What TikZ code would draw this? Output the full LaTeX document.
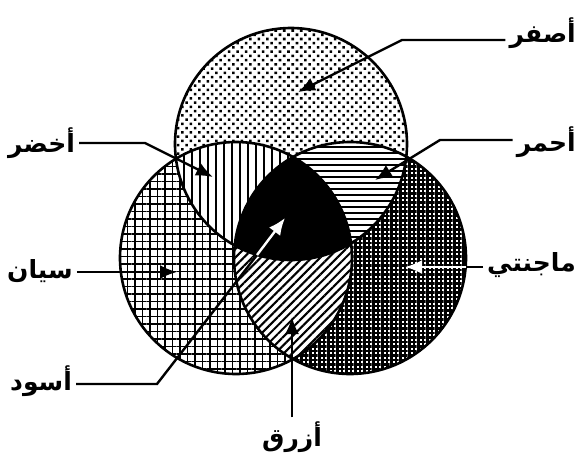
\documentclass[tikz,border=0pt]{standalone}
\usepackage{fontspec}
\usepackage{tikz}
\usetikzlibrary{arrows.meta,patterns.meta}
\TeXXeTstate=1
\newfontfamily\arabicfont[Script=Arabic]{DejaVu Sans}
\newcommand{\arlbl}[1]{{\arabicfont\bfseries\beginR #1\endR}}
\tikzset{
  vennedge/.style={draw=black, line width=2.6pt},
  regionfill/.style={preaction={fill=white}},
  leader/.style={-{Latex[length=17pt,width=14pt]}, line width=2.4pt},
  leadline/.style={line width=2.4pt},
  colorlbl/.style={font=\fontsize{25}{30}\selectfont, inner sep=4pt}
}

\begin{document}
\begin{tikzpicture}[x=1pt, y=-1pt]
  \useasboundingbox (0,0) rectangle (581,459);
  \def\rad{116}
  \coordinate (ctop) at (291,144);
  \coordinate (cleft) at (236,258);
  \coordinate (cright) at (350,258);

  % single circles
  \fill[regionfill, pattern={Dots[radius=1.8pt,distance=6pt,angle=45]}] (ctop) circle (\rad);
  \fill[regionfill, pattern={Hatch[distance=7.5pt,angle=0,line width=1.9pt]}] (cleft) circle (\rad);
  \fill[regionfill, pattern={Hatch[distance=4.5pt,angle=0,line width=2.4pt]}] (cright) circle (\rad);

  % pairwise overlaps
  \begin{scope}
    \clip (ctop) circle (\rad);
    \fill[regionfill, pattern={Lines[angle=90,distance=8pt,line width=1.9pt]}] (cleft) circle (\rad);
  \end{scope}
  \begin{scope}
    \clip (ctop) circle (\rad);
    \fill[regionfill, pattern={Lines[angle=0,distance=6pt,line width=2.1pt]}] (cright) circle (\rad);
  \end{scope}
  \begin{scope}
    \clip (cleft) circle (\rad);
    \fill[regionfill, pattern={Lines[angle=45,distance=6pt,line width=2.1pt]}] (cright) circle (\rad);
  \end{scope}

  % all three
  \begin{scope}
    \clip (ctop) circle (\rad);
    \clip (cleft) circle (\rad);
    \fill[black] (cright) circle (\rad);
  \end{scope}

  \draw[vennedge] (ctop) circle (\rad);
  \draw[vennedge] (cleft) circle (\rad);
  \draw[vennedge] (cright) circle (\rad);

  % labels
  \node[colorlbl, anchor=east] (yellow) at (580,33) {\arlbl{أصفر}};
  \node[colorlbl, anchor=east] (red) at (580,142) {\arlbl{أحمر}};
  \node[colorlbl, anchor=west] (green) at (4,143) {\arlbl{أخضر}};
  \node[colorlbl, anchor=west] (cyan) at (3,271) {\arlbl{سيان}};
  \node[colorlbl, anchor=east] (magenta) at (580,265) {\arlbl{ماجنتي}};
  \node[colorlbl, anchor=west] (black) at (6,381) {\arlbl{أسود}};
  \node[colorlbl] (blue) at (292,437) {\arlbl{أزرق}};

  \coordinate (ybend) at (402,40);
  \coordinate (ytip) at (298,92);
  \coordinate (rbend) at (440,140);
  \coordinate (rtip) at (375,180);
  \coordinate (gbend) at (145,143);
  \coordinate (gtip) at (213,177);
  \coordinate (ctip) at (177,272);
  \coordinate (medge) at (466,267);
  \coordinate (mtip) at (405,267);
  \coordinate (kbend) at (157,384);
  \coordinate (kedge) at (257,255);
  \coordinate (ktip) at (285,218);
  \coordinate (btip) at (292,317);

  \draw[leader] (yellow.west |- ybend) -- (ybend) -- (ytip);
  \draw[leader] (red.west |- rbend) -- (rbend) -- (rtip);
  \draw[leader] (green.east |- gbend) -- (gbend) -- (gtip);
  \draw[leader] (cyan.east |- ctip) -- (ctip);
  \draw[leadline] (magenta.west |- medge) -- (medge);
  \draw[leader, white] (medge) -- (mtip);
  \draw[leadline] (black.east |- kbend) -- (kbend) -- (kedge);
  \draw[leader, white] (kedge) -- (ktip);
  \draw[leader] (blue.north -| btip) -- (btip);
\end{tikzpicture}
\end{document}
